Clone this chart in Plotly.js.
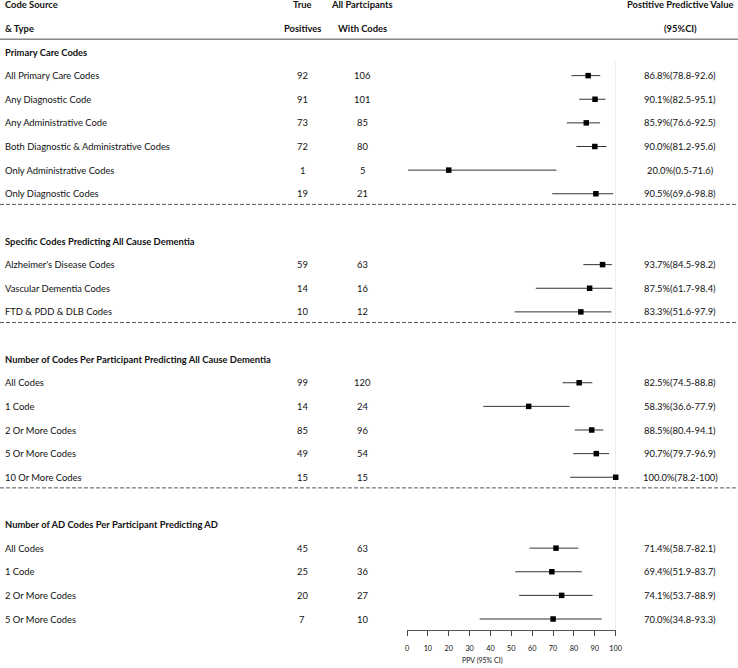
<!DOCTYPE html>
<html>
<head>
<meta charset="utf-8">
<script src="https://cdn.plot.ly/plotly-3.0.1.min.js"></script>
<style>html,body{margin:0;padding:0;background:#fff;}#chart{width:738px;height:668px;}</style>
</head>
<body>
<div id="chart"></div>
<script>
// ---- data ----
const sectionTitles = [
  "Primary Care Codes",
  "Specific Codes Predicting All Cause Dementia",
  "Number of Codes Per Participant Predicting All Cause Dementia",
  "Number of AD Codes Per Participant Predicting AD"
];
const section = [0,0,0,0,0,0, 1,1,1, 2,2,2,2,2, 3,3,3,3];
const labels = [
  "All Primary Care Codes","Any Diagnostic Code","Any Administrative Code",
  "Both Diagnostic & Administrative Codes","Only Administrative Codes","Only Diagnostic Codes",
  "Alzheimer's Disease Codes","Vascular Dementia Codes","FTD & PDD & DLB Codes",
  "All Codes","1 Code","2 Or More Codes","5 Or More Codes","10 Or More Codes",
  "All Codes","1 Code","2 Or More Codes","5 Or More Codes"
];
const truePositives = [92,91,73,72,1,19, 59,14,10, 99,14,85,49,15, 45,25,20,7];
const allWithCodes  = [106,101,85,80,5,21, 63,16,12, 120,24,96,54,15, 63,36,27,10];
const ppv   = [86.8,90.1,85.9,90.0,20.0,90.5, 93.7,87.5,83.3, 82.5,58.3,88.5,90.7,100.0, 71.4,69.4,74.1,70.0];
const ciLow = [78.8,82.5,76.6,81.2,0.5,69.6, 84.5,61.7,51.6, 74.5,36.6,80.4,79.7,78.2, 58.7,51.9,53.7,34.8];
const ciHigh= [92.6,95.1,92.5,95.6,71.6,98.8, 98.2,98.4,97.9, 88.8,77.9,94.1,96.9,100, 82.1,83.7,88.9,93.3];
const headerRow1 = ["Code Source","True","All Partcipants","Postitive Predictive Value"];
const headerRow2 = ["& Type","Positives","With Codes","(95%CI)"];
const xTicks = [0,10,20,30,40,50,60,70,80,90,100];
const xTitle = "PPV (95% CI)";

// ---- layout helpers ----
const W = 738, H = 668, BOTTOM = 38;
const FONT = "Lato, 'Liberation Sans', Arial, sans-serif";
const TXT = "#111";
const pitch = 23.625, row0px = 4.75, plotH = H - BOTTOM;
const yTop = -row0px / pitch, yBot = (plotH - row0px) / pitch;
const colX = {label: 3/W, tp: 302/W, all: 362/W, ppv: 680/W};

// compute row index per item, section title rows, separators
const rowOf = [], titleRows = [], sepRows = [];
let r = 2, prev = -1;
for (let i = 0; i < labels.length; i++) {
  if (section[i] !== prev) {
    if (prev !== -1) { sepRows.push(r - 1 + 0.45); r += 1; }
    titleRows.push(r); r += 1; prev = section[i];
  }
  rowOf.push(r); r += 1;
}

const ann = [];
function addText(text, x, y, anchor, bold, size) {
  ann.push({text: bold ? "<b>" + text + "</b>" : text, xref: "paper", yref: "y", x: x, y: y,
    xanchor: anchor, yanchor: "middle", showarrow: false,
    font: {family: FONT, size: size || 9.4, color: TXT}});
}
const hx = [[colX.label,"left"],[colX.tp,"center"],[colX.all,"center"],[colX.ppv,"center"]];
headerRow1.forEach((t,k) => addText(t, hx[k][0], 0, hx[k][1], true));
headerRow2.forEach((t,k) => addText(t, hx[k][0], 1, hx[k][1], true));
sectionTitles.forEach((t,k) => addText(t, colX.label, titleRows[k], "left", true));
labels.forEach((t,i) => {
  addText(t, colX.label, rowOf[i], "left", false);
  addText(String(truePositives[i]), colX.tp, rowOf[i], "center", false);
  addText(String(allWithCodes[i]), colX.all, rowOf[i], "center", false);
  addText(ppv[i].toFixed(1) + "%(" + ciLow[i] + "-" + ciHigh[i] + ")", colX.ppv, rowOf[i], "center", false);
});
ann.push({text: xTitle, xref: "paper", yref: "paper", x: 483/W, y: (plotH - 660)/plotH,
  xanchor: "center", yanchor: "middle", showarrow: false, font: {family: FONT, size: 7, color: TXT}});

const shapes = [
  {type: "line", xref: "paper", yref: "y", x0: 0, x1: 1, y0: 1.46, y1: 1.46, line: {color: "#888", width: 1.5}},
  {type: "line", xref: "x", yref: "y", x0: 100, x1: 100, y0: 2.4, y1: yBot, layer: "below", line: {color: "#dedede", width: 1}}
];
sepRows.forEach(y => shapes.push({type: "line", xref: "paper", yref: "y", x0: 0, x1: 1, y0: y, y1: y,
  line: {color: "#555", width: 1, dash: "4px,2px"}}));

const trace = {
  type: "scatter", mode: "markers", x: ppv, y: rowOf, cliponaxis: false, hoverinfo: "skip",
  marker: {symbol: "square", size: 5.5, color: "#000"},
  error_x: {type: "data", symmetric: false,
    array: ppv.map((v,i) => ciHigh[i] - v), arrayminus: ppv.map((v,i) => v - ciLow[i]),
    width: 0, thickness: 1, color: "#333"}
};

const layout = {
  width: W, height: H, margin: {l: 0, r: 0, t: 0, b: BOTTOM, pad: 0},
  paper_bgcolor: "#fff", plot_bgcolor: "#fff", showlegend: false,
  xaxis: {domain: [407/W, 615.7/W], range: [0,100], tickmode: "array", tickvals: xTicks,
    ticks: "outside", ticklen: 5, tickcolor: "#444", showline: true, linecolor: "#555", linewidth: 1,
    showgrid: false, zeroline: false, ticklabelstandoff: 6,
    tickfont: {family: FONT, size: 7.3, color: TXT}, fixedrange: true},
  yaxis: {range: [yBot, yTop], visible: false, showgrid: false, zeroline: false, fixedrange: true},
  annotations: ann, shapes: shapes
};
Plotly.newPlot("chart", [trace], layout, {staticPlot: true, displayModeBar: false});
</script>
</body>
</html>
